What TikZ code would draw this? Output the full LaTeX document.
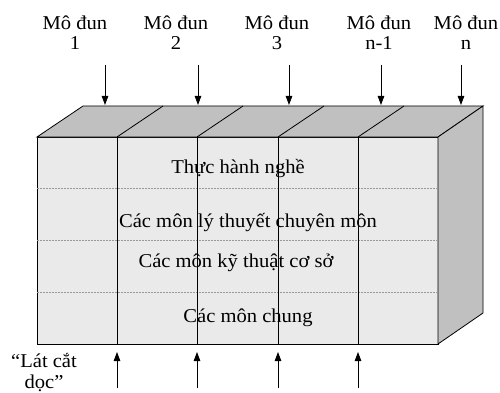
\documentclass[tikz,border=0pt]{standalone}
\usepackage{fontspec}
\setmainfont[FakeStretch=1.05]{Liberation Serif}
\usetikzlibrary{arrows.meta}
\definecolor{frontc}{RGB}{234,234,234}
\definecolor{sidec}{RGB}{192,192,192}
\begin{document}
\begin{tikzpicture}[x=1pt,y=-1pt,
  face/.style={draw=black,line width=0.8pt,line join=miter},
  arr/.style={-{Triangle[length=9pt,width=6.5pt]},line width=0.8pt},
  lbl/.style={font=\fontsize{19.6}{20.5}\selectfont,align=center,inner sep=0pt},
  layer/.style={draw=gray!80,dashed,line width=0.4pt,dash pattern=on 2pt off 1pt},
  divider/.style={draw=black,line width=0.8pt}]
\useasboundingbox (0,0) rectangle (500,393);
\fill[white] (0,0) rectangle (500,393);
% block faces
\filldraw[fill=frontc,face] (37,137) rectangle (438,344);
\filldraw[fill=sidec,face] (37,137) -- (83,106) -- (483,106) -- (438,137) -- cycle;
\filldraw[fill=sidec,face] (438,137) -- (483,106) -- (483,313) -- (438,344) -- cycle;
% layer separators
\foreach \y in {188,240,292} \draw[layer] (37,\y) -- (438,\y);
% layer names
\node[lbl,anchor=base] (l4) at (238,173) {Thực hành nghề};
\node[lbl,anchor=base] (l3) at (248,227) {Các môn lý thuyết chuyên môn};
\node[lbl,anchor=base] (l2) at (236,267) {Các môn kỹ thuật cơ sở};
\node[lbl,anchor=base] (l1) at (248,322) {Các môn chung};
% module dividers
\foreach \x in {117,197,278,358} {
  \draw[divider] (\x,137) -- (\x+46,106);
  \draw[divider] (\x,137) -- (\x,344);
}
% module labels (base = baseline of the last line)
\node[lbl,anchor=base] (m1) at (75,50) {Mô đun\\1};
\node[lbl,anchor=base] (m2) at (176,50) {Mô đun\\2};
\node[lbl,anchor=base] (m3) at (277,50) {Mô đun\\3};
\node[lbl,anchor=base] (m4) at (379,50) {Mô đun\\n-1};
\node[lbl,anchor=base] (m5) at (466,50) {Mô đun\\n};
% top arrows
\foreach \i/\x in {1/105,2/198,3/289,4/381,5/461} {
  \coordinate (ts\i) at (\x,65);
  \coordinate (te\i) at (\x,105);
  \draw[arr] (ts\i) -- (te\i);
}
% slice label
\node[lbl,anchor=base,font=\fontsize{19.6}{21.5}\selectfont] (cut) at (44,388.5) {“Lát cắt\\dọc”};
% bottom arrows
\foreach \i/\x in {1/117,2/197,3/278,4/358} {
  \coordinate (bs\i) at (\x,388);
  \coordinate (be\i) at (\x,352);
  \draw[arr] (bs\i) -- (be\i);
}
\end{tikzpicture}
\end{document}
